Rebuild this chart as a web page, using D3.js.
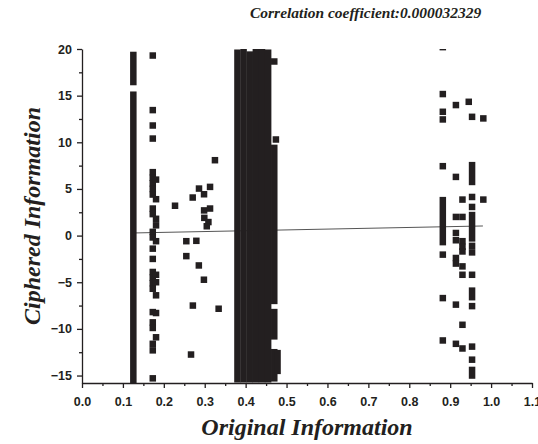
<!DOCTYPE html>
<head>
  <meta charset="utf-8">
  <title>Correlation scatter</title>
  <script src="https://cdn.jsdelivr.net/npm/d3@7"></script>
  <style>
    body { margin: 0; background: #fff; }
    .tick text { font-family: "Liberation Sans", Arial, sans-serif; font-weight: bold; font-size: 12.5px; fill: #231f20; }
    .lbl { font-family: "Liberation Serif", "Times New Roman", serif; font-weight: bold; font-style: italic; fill: #231f20; }
  </style>
</head>
<body>
<div id="chart"></div>
<script>
  // tick values
  var xTicks = [0, 0.1, 0.2, 0.3, 0.4, 0.5, 0.6, 0.7, 0.8, 0.9, 1.0, 1.1];
  var yTicks = [-15, -10, -5, 0, 5, 10, 15, 20];

  // runs of markers packed together: [x, yTop, yBottom]
  var barRuns = [
    [0.1255, 19.36, 16.46], [0.1255, 15.1, -15.5]
  ];
  var blobRuns = [
    [0.380, 19.6, -15.4], [0.395, 19.7, -15.4], [0.410, 19.4, -15.4],
    [0.425, 19.8, -15.4], [0.440, 19.8, -15.4], [0.455, 19.6, -15.4],
    [0.470, 18.66, 18.66], [0.474, 10.3, 10.3], [0.470, 9.4, -7.0],
    [0.470, -8.2, -10.8], [0.470, -12.5, -15.3], [0.478, -12.6, -14.5]
  ];
  var rightRuns = [
    [0.882, 3.8, -0.7], [0.9535, 7.55, 5.75], [0.9535, 2.2, -0.3],
    [0.9535, -5.9, -6.6], [0.9535, -14.4, -15.0]
  ];

  // single markers: [x, y]
  var leftPoints = [
    [0.173, 19.3], [0.173, 13.45], [0.173, 11.8], [0.173, 10.4], [0.173, 6.8],
    [0.173, 6.2], [0.173, 5.6], [0.173, 5.0], [0.173, 4.4], [0.173, 2.9],
    [0.173, 2.3], [0.173, 0.4], [0.173, -0.2], [0.173, -1.4], [0.173, -2.5],
    [0.173, -3.9], [0.173, -4.5], [0.173, -5.1], [0.173, -5.7], [0.173, -8.2],
    [0.173, -9.3], [0.173, -9.9], [0.173, -11.6], [0.173, -12.3], [0.173, -15.3],
    [0.181, 6.0], [0.181, 3.9], [0.181, 1.8], [0.181, 1.1], [0.181, -0.6],
    [0.181, -4.2], [0.181, -5.0], [0.181, -6.4], [0.181, -8.3], [0.181, -10.9]
  ];
  var midPoints = [
    [0.2274, 3.2], [0.2706, 4.08], [0.286, 5.04], [0.2983, 4.43], [0.313, 5.22],
    [0.325, 8.08], [0.2985, 2.7], [0.313, 2.9], [0.299, 1.9], [0.309, 1.45],
    [0.305, 1.0], [0.255, -0.6], [0.2795, -0.56], [0.255, -2.2], [0.2856, -3.2],
    [0.298, -4.73], [0.271, -7.5], [0.334, -7.84], [0.2665, -12.75]
  ];
  var rightPoints = [
    [0.882, 20.2], [0.882, 15.17], [0.882, 13.27], [0.882, 12.45], [0.882, 7.44],
    [0.882, -2.04], [0.882, -6.7], [0.882, -11.24],
    [0.914, 13.99], [0.914, 6.29], [0.914, 2.0], [0.914, 0.28], [0.914, -0.5],
    [0.914, -2.4], [0.914, -3.0], [0.914, -7.4], [0.914, -11.6],
    [0.93, 3.86], [0.93, 2.0], [0.93, -0.6], [0.93, -1.2], [0.93, -1.7],
    [0.93, -3.3], [0.93, -4.2], [0.93, -9.56], [0.93, -12.1],
    [0.9454, 14.34], [0.9535, 12.73], [0.9535, 4.14], [0.9535, 3.07],
    [0.9535, -1.1], [0.9535, -1.8], [0.9535, -4.2], [0.9535, -7.56],
    [0.9535, -11.9], [0.9535, -13.3], [0.981, 12.56], [0.981, 3.86]
  ];

  // linear fit
  var fitX = [0.125, 0.98];
  var fitY = [0.28, 1.03];

  var width = 538, height = 444;
  var plotLeft = 82, plotRight = 532, plotTop = 49, plotBottom = 383;
  var S = 6.5; // marker size
  var ink = "#231f20";

  var svg = d3.select("#chart").append("svg")
    .attr("width", width)
    .attr("height", height);

  var x = d3.scaleLinear().domain([0, 1.1]).range([plotLeft, plotRight]);
  var y = d3.scaleLinear().domain([-15.8, 20]).range([plotBottom, plotTop]);

  svg.append("clipPath").attr("id", "plot")
    .append("rect")
    .attr("x", plotLeft).attr("y", plotTop)
    .attr("width", plotRight - plotLeft).attr("height", plotBottom - plotTop);

  // fit line (under the markers)
  svg.append("path")
    .datum(d3.zip(fitX, fitY))
    .attr("fill", "none")
    .attr("stroke", "#555")
    .attr("stroke-width", 1)
    .attr("d", d3.line()
      .x(function(d) { return x(d[0]); })
      .y(function(d) { return y(d[1]); }));

  var runs = barRuns.concat(blobRuns, rightRuns)
    .concat(leftPoints.concat(midPoints, rightPoints).map(function(p) { return [p[0], p[1], p[1]]; }));

  svg.append("g")
    .attr("clip-path", "url(#plot)")
    .selectAll("rect")
    .data(runs)
    .enter().append("rect")
    .attr("x", function(d) { return x(d[0]) - S / 2; })
    .attr("y", function(d) { return y(d[1]) - S / 2; })
    .attr("width", S)
    .attr("height", function(d) { return y(d[2]) - y(d[1]) + S; })
    .attr("fill", ink);

  // minor ticks
  var xMinor = xTicks.slice(0, -1).map(function(v) { return v + 0.05; });
  var yMinor = yTicks.slice(0, -1).map(function(v) { return v + 2.5; });

  svg.append("g")
    .attr("transform", "translate(0," + plotBottom + ")")
    .call(d3.axisBottom(x).tickValues(xMinor).tickSize(3).tickSizeOuter(0).tickFormat(""))
    .call(function(g) { g.select(".domain").remove(); });
  svg.append("g")
    .attr("transform", "translate(" + plotLeft + ",0)")
    .call(d3.axisLeft(y).tickValues(yMinor).tickSize(3).tickSizeOuter(0).tickFormat(""))
    .call(function(g) { g.select(".domain").remove(); });

  // major axes
  svg.append("g")
    .attr("transform", "translate(0," + plotBottom + ")")
    .call(d3.axisBottom(x).tickValues(xTicks).tickSize(5).tickSizeOuter(0)
      .tickPadding(9).tickFormat(d3.format(".1f")));
  svg.append("g")
    .attr("transform", "translate(" + plotLeft + ",0)")
    .call(d3.axisLeft(y).tickValues(yTicks).tickSize(5).tickSizeOuter(0)
      .tickPadding(5).tickFormat(d3.format("d")));

  svg.selectAll(".domain, .tick line")
    .attr("stroke", ink)
    .attr("stroke-width", 1.3);

  // texts
  svg.append("text").attr("class", "lbl")
    .attr("x", 250).attr("y", 18)
    .attr("font-size", 15.5)
    .text("Correlation coefficient:0.000032329");

  svg.append("text").attr("class", "lbl")
    .attr("x", (plotLeft + plotRight) / 2).attr("y", 435)
    .attr("text-anchor", "middle")
    .attr("font-size", 24)
    .text("Original Information");

  svg.append("text").attr("class", "lbl")
    .attr("transform", "translate(40," + (plotTop + plotBottom) / 2 + ") rotate(-90)")
    .attr("text-anchor", "middle")
    .attr("font-size", 24)
    .text("Ciphered Information");
</script>
</body>
